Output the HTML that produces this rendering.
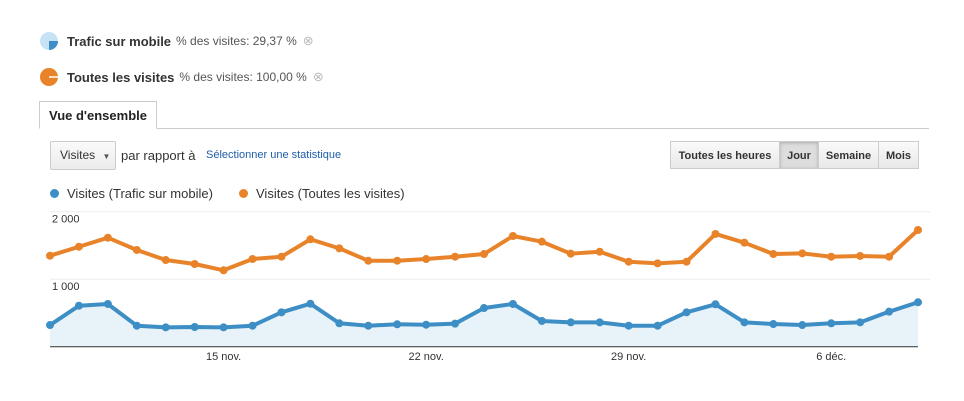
<!DOCTYPE html>
<html><head><meta charset="utf-8"><style>
body{margin:0;width:964px;height:401px;background:#fff;font-family:"Liberation Sans",sans-serif;position:relative;overflow:hidden}
.abs{position:absolute}
.seg{position:absolute;top:0;height:28px;line-height:28px;font-size:11px;font-weight:bold;color:#333;text-align:center;border:1px solid #ccc;background:linear-gradient(#fafafa,#e8e8e8);box-sizing:border-box}
</style></head><body>
<div class="abs" style="left:39px;top:31px;font-size:13px;color:#333;display:flex;align-items:center">
<svg width="20" height="20"><circle cx="10" cy="10" r="9" fill="#c6e3f5"/><path d="M10 10 L19 10 A9 9 0 0 1 10 19 Z" fill="#3c8ec5"/></svg>
<b style="margin-left:8px">Trafic sur mobile</b><span style="color:#555;font-size:12px;margin-left:5px">% des visites: 29,37 %</span><span style="margin-left:6px;color:#bbb">⊗</span></div>
<div class="abs" style="left:39px;top:67px;font-size:13px;color:#333;display:flex;align-items:center">
<svg width="20" height="20"><circle cx="10" cy="10" r="9" fill="#e8832a"/><path d="M10 10 L19 10" stroke="#fff" stroke-width="1.5"/></svg>
<b style="margin-left:8px">Toutes les visites</b><span style="color:#555;font-size:12px;margin-left:5px">% des visites: 100,00 %</span><span style="margin-left:6px;color:#bbb">⊗</span></div>
<div class="abs" style="left:39px;top:128px;width:890px;height:1px;background:#ccc"></div>
<div class="abs" style="left:39px;top:101px;width:118px;height:28px;border:1px solid #ccc;border-bottom:1px solid #fff;background:#fff;box-sizing:border-box;font-size:13px;font-weight:bold;line-height:27px;text-align:center;color:#222">Vue d'ensemble</div>
<div class="abs" style="left:50px;top:141px;width:66px;height:29px;border:1px solid #ccc;border-radius:2px;box-sizing:border-box;background:linear-gradient(#fafafa,#ececec);font-size:12px;line-height:27px;padding-left:9px;color:#333">Visites <span style="font-size:8px;color:#555;margin-left:4px">▼</span></div>
<div class="abs" style="left:121px;top:148px;font-size:13px;color:#333">par rapport à</div>
<div class="abs" style="left:206px;top:149px;font-size:11px;color:#1f5da8">Sélectionner une statistique</div>
<div class="seg" style="left:670px;top:141px;width:110px">Toutes les heures</div>
<div class="seg" style="left:779px;top:141px;width:40px;background:#ddd;box-shadow:inset 0 1px 3px #aaa">Jour</div>
<div class="seg" style="left:818px;top:141px;width:61px">Semaine</div>
<div class="seg" style="left:878px;top:141px;width:41px">Mois</div>
<div class="abs" style="left:50px;top:186px;font-size:13px;color:#333"><span style="display:inline-block;width:9px;height:9px;border-radius:50%;background:#3c8ec5;margin-right:8px"></span>Visites (Trafic sur mobile)</div>
<div class="abs" style="left:239px;top:186px;font-size:13px;color:#333"><span style="display:inline-block;width:9px;height:9px;border-radius:50%;background:#e8832a;margin-right:8px"></span>Visites (Toutes les visites)</div>
<svg id="chart" class="abs" style="left:0;top:0" width="964" height="401"></svg>
<script>
const orange=[1348,1481,1615,1433,1284,1225,1132,1299,1333,1591,1457,1274,1274,1299,1333,1373,1640,1556,1378,1407,1259,1235,1259,1670,1541,1373,1383,1333,1344,1333,1729];
const blue=[321,607,633,311,287,292,287,311,509,637,347,311,332,326,341,573,633,381,361,361,311,311,509,628,361,336,321,347,361,519,658];
const yTicks=[1000,2000];
const yLabels=["1 000","2 000"];
const xTickIdx=[6,13,20,27];
const xLabels=["15 nov.","22 nov.","29 nov.","6 déc."];
const NS="http://www.w3.org/2000/svg",svg=document.getElementById('chart');
const x0=50,x1=918,yb=346.7,k=0.0675;
const X=i=>x0+i*(x1-x0)/(orange.length-1), Y=v=>yb-v*k;
function el(t,a){const e=document.createElementNS(NS,t);for(const n in a)e.setAttribute(n,a[n]);svg.appendChild(e);return e;}
yTicks.forEach((t,i)=>{const g=el('line',{x1:x0,x2:930,y1:Y(t),y2:Y(t),stroke:'#eee'});

const l=el('text',{x:52,y:Y(t)+11,'font-size':11,fill:'#333','font-family':'Liberation Sans'});l.textContent=yLabels[i];
});
const area=el('path',{d:'M'+X(0)+','+yb+blue.map((v,i)=>'L'+X(i)+','+Y(v)).join('')+'L'+X(blue.length-1)+','+yb+'Z',fill:'#e8f2f9'});

const ax=el('line',{x1:x0,x2:918,y1:yb,y2:yb,stroke:'#333'});

xTickIdx.forEach((ix,i)=>{const t=el('text',{x:X(ix),y:360,'font-size':11,fill:'#333','text-anchor':'middle','font-family':'Liberation Sans'});t.textContent=xLabels[i];
});
[[orange,'#e8832a','all-visits'],[blue,'#3c8ec5','mobile-visits']].forEach(([d,c,n])=>{
const p=el('polyline',{points:d.map((v,i)=>X(i)+','+Y(v)).join(' '),fill:'none',stroke:c,'stroke-width':4,'stroke-linejoin':'round'});

d.forEach((v,i)=>{const m=el('circle',{cx:X(i),cy:Y(v),r:4,fill:c});
});});
</script>
</body></html>
